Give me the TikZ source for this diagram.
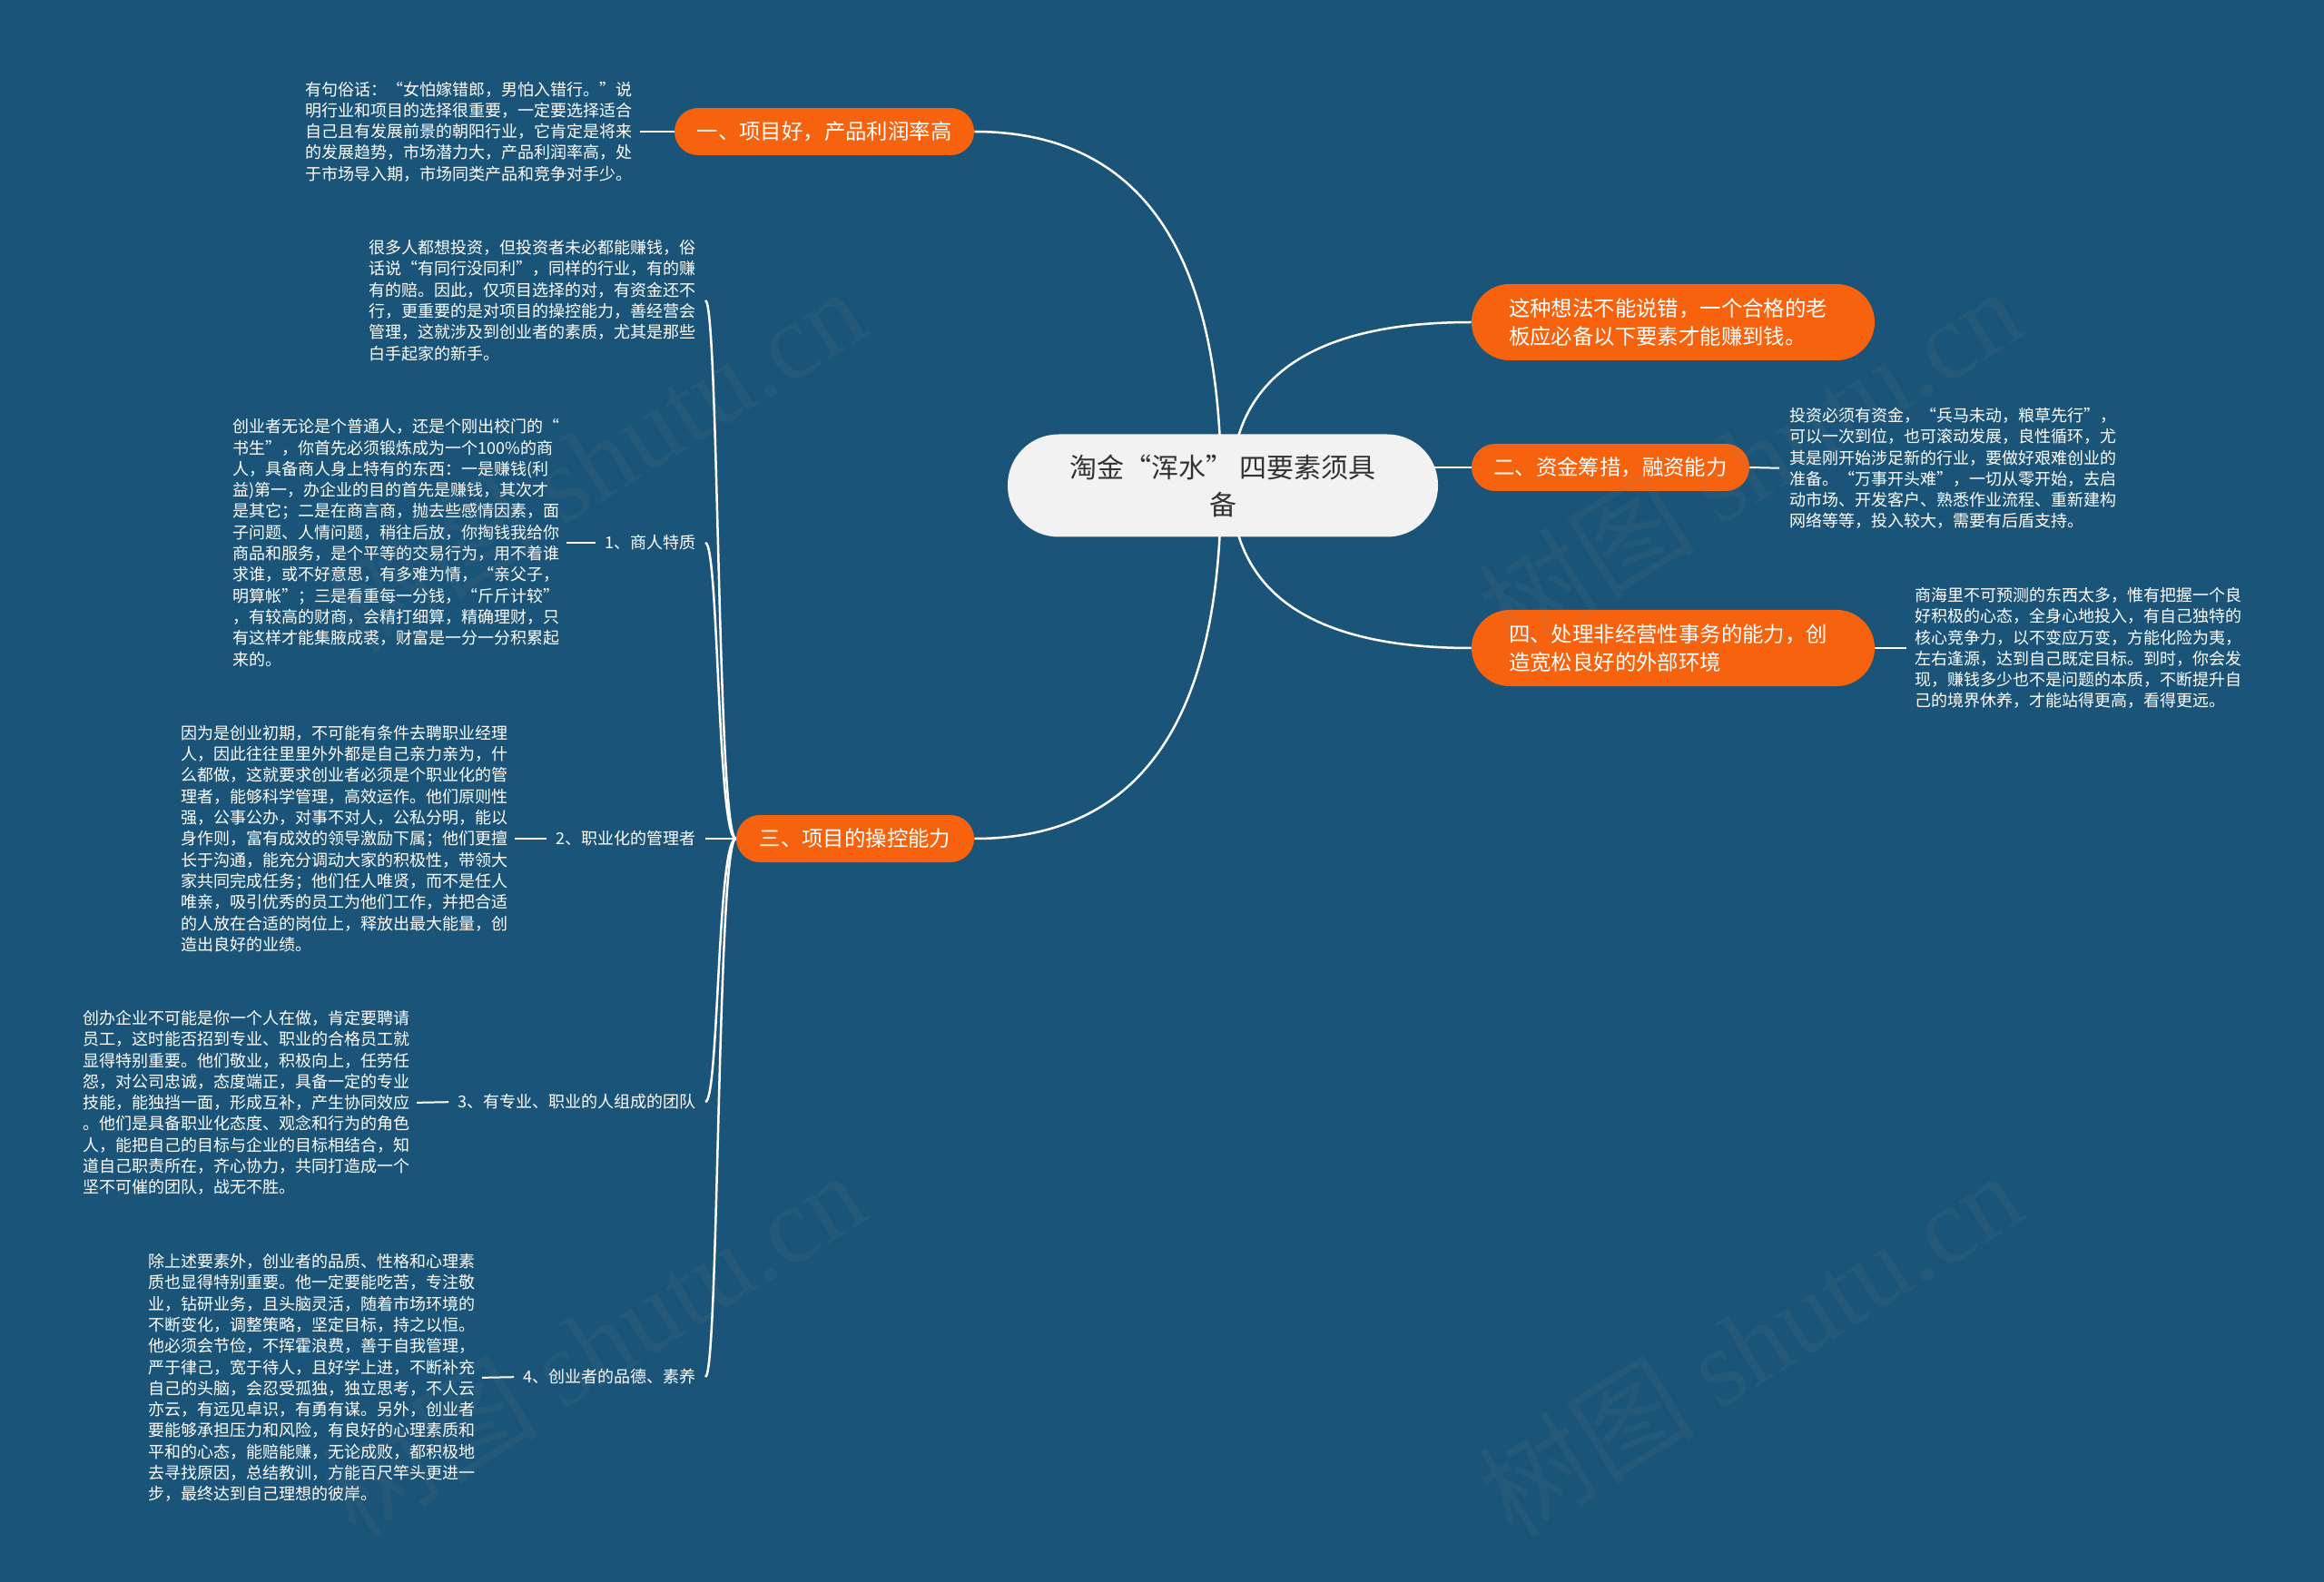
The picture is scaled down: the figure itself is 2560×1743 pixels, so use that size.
\documentclass[tikz,border=0pt]{standalone}
\usepackage{fontspec}
\setmainfont{Noto Sans CJK SC}
\newfontfamily\wmfont{Liberation Serif}
\usetikzlibrary{backgrounds,calc}
\definecolor{bgblue}{HTML}{1B5479}
\definecolor{brorange}{HTML}{F7620E}
\definecolor{rootfill}{HTML}{F2F2F2}
\definecolor{roottext}{HTML}{333333}
\begin{document}
\begin{tikzpicture}[x=0.5pt,y=-0.5pt,
  rootbox/.style={fill=rootfill, text=roottext, rounded corners=28pt, minimum width=237pt, minimum height=56.5pt, align=center, font=\fontsize{15}{20.5}\selectfont, inner sep=0pt},
  branchbox/.style={fill=brorange, text=white, rounded corners=13pt, minimum height=26pt, font=\fontsize{11.7}{15.5}\selectfont, inner sep=0pt},
  widebranch/.style={branchbox, minimum width=222pt, minimum height=42pt, rounded corners=21pt, align=left, text width=181pt},
  leaftext/.style={text=white, align=left, inner sep=0pt, font=\fontsize{9}{11.65}\selectfont},
  sublabel/.style={text=white, inner sep=0pt, font=\fontsize{9}{11.65}\selectfont},
  link/.style={draw=white, line width=1.25pt},
  leaflink/.style={draw=white, line width=1pt},
  wm/.style={text=black!45, text opacity=0.09, font=\fontsize{60}{60}\selectfont, inner sep=0pt, rotate=32}
]
\useasboundingbox (0,0) rectangle (2560,1743);
\begin{scope}[on background layer]
  \fill[bgblue] (0,0) rectangle (2560,1743);
\end{scope}

% root
\node[rootbox] (c) at (1347,535) {淘金“浑水”\ 四要素须具\\备};

% main branches
\node[branchbox, minimum width=165pt] (b1) at (908,145) {一、项目好，产品利润率高};
\node[branchbox, minimum width=131pt] (b3) at (942,924) {三、项目的操控能力};
\node[branchbox, minimum width=153pt] (b2) at (1774,515) {二、资金筹措，融资能力};
\node[widebranch] (r1) at (1843,355) {这种想法不能说错，一个合格的老\\板应必备以下要素才能赚到钱。};
\node[widebranch] (b4) at (1843,714) {四、处理非经营性事务的能力，创\\造宽松良好的外部环境};

% leaves
\node[leaftext, anchor=east] (l1) at (697,145) {有句俗话：“女怕嫁错郎，男怕入错行。”说\\明行业和项目的选择很重要，一定要选择适合\\自己且有发展前景的朝阳行业，它肯定是将来\\的发展趋势，市场潜力大，产品利润率高，处\\于市场导入期，市场同类产品和竞争对手少。};

\node[leaftext, anchor=east] (l30) at (767,331) {很多人都想投资，但投资者未必都能赚钱，俗\\话说“有同行没同利”，同样的行业，有的赚\\有的赔。因此，仅项目选择的对，有资金还不\\行，更重要的是对项目的操控能力，善经营会\\管理，这就涉及到创业者的素质，尤其是那些\\白手起家的新手。};

\node[sublabel, anchor=east] (s1) at (767,598) {1、商人特质};
\node[leaftext, anchor=east] (l31) at (617,598) {创业者无论是个普通人，还是个刚出校门的“\\书生”，你首先必须锻炼成为一个100\%的商\\人，具备商人身上特有的东西：一是赚钱(利\\益)第一，办企业的目的首先是赚钱，其次才\\是其它；二是在商言商，抛去些感情因素，面\\子问题、人情问题，稍往后放，你掏钱我给你\\商品和服务，是个平等的交易行为，用不着谁\\求谁，或不好意思，有多难为情，“亲父子，\\明算帐”；三是看重每一分钱，“斤斤计较”\\，有较高的财商，会精打细算，精确理财，只\\有这样才能集腋成裘，财富是一分一分积累起\\来的。};

\node[sublabel, anchor=east] (s2) at (767,924) {2、职业化的管理者};
\node[leaftext, anchor=east] (l32) at (560,924) {因为是创业初期，不可能有条件去聘职业经理\\人，因此往往里里外外都是自己亲力亲为，什\\么都做，这就要求创业者必须是个职业化的管\\理者，能够科学管理，高效运作。他们原则性\\强，公事公办，对事不对人，公私分明，能以\\身作则，富有成效的领导激励下属；他们更擅\\长于沟通，能充分调动大家的积极性，带领大\\家共同完成任务；他们任人唯贤，而不是任人\\唯亲，吸引优秀的员工为他们工作，并把合适\\的人放在合适的岗位上，释放出最大能量，创\\造出良好的业绩。};

\node[sublabel, anchor=east] (s3) at (767,1214) {3、有专业、职业的人组成的团队};
\node[leaftext, anchor=east] (l33) at (452,1215) {创办企业不可能是你一个人在做，肯定要聘请\\员工，这时能否招到专业、职业的合格员工就\\显得特别重要。他们敬业，积极向上，任劳任\\怨，对公司忠诚，态度端正，具备一定的专业\\技能，能独挡一面，形成互补，产生协同效应\\。他们是具备职业化态度、观念和行为的角色\\人，能把自己的目标与企业的目标相结合，知\\道自己职责所在，齐心协力，共同打造成一个\\坚不可催的团队，战无不胜。};

\node[sublabel, anchor=east] (s4) at (767,1517) {4、创业者的品德、素养};
\node[leaftext, anchor=east] (l34) at (524,1518) {除上述要素外，创业者的品质、性格和心理素\\质也显得特别重要。他一定要能吃苦，专注敬\\业，钻研业务，且头脑灵活，随着市场环境的\\不断变化，调整策略，坚定目标，持之以恒。\\他必须会节俭，不挥霍浪费，善于自我管理，\\严于律己，宽于待人，且好学上进，不断补充\\自己的头脑，会忍受孤独，独立思考，不人云\\亦云，有远见卓识，有勇有谋。另外，创业者\\要能够承担压力和风险，有良好的心理素质和\\平和的心态，能赔能赚，无论成败，都积极地\\去寻找原因，总结教训，方能百尺竿头更进一\\步，最终达到自己理想的彼岸。};

\node[leaftext, anchor=west] (l2) at (1971,516) {投资必须有资金，“兵马未动，粮草先行”，\\可以一次到位，也可滚动发展，良性循环，尤\\其是刚开始涉足新的行业，要做好艰难创业的\\准备。“万事开头难”，一切从零开始，去启\\动市场、开发客户、熟悉作业流程、重新建构\\网络等等，投入较大，需要有后盾支持。};

\node[leaftext, anchor=west] (l4) at (2109,714) {商海里不可预测的东西太多，惟有把握一个良\\好积极的心态，全身心地投入，有自己独特的\\核心竞争力，以不变应万变，方能化险为夷，\\左右逢源，达到自己既定目标。到时，你会发\\现，赚钱多少也不是问题的本质，不断提升自\\己的境界休养，才能站得更高，看得更远。};

% connectors
\begin{scope}[on background layer]
  \draw[link] ($(c.center)+(-2,0)$) .. controls (1345,330) and (1290,145) .. (b1.east);
  \draw[link] ($(c.center)+(-2,0)$) .. controls (1345,740) and (1290,924) .. (b3.east);
  \draw[link] ($(c.center)+(9,0)$) .. controls (1358,420) and (1440,355) .. (r1.west);
  \draw[link] ($(c.center)+(9,0)$) .. controls (1358,650) and (1440,714) .. (b4.west);
  \draw[link] (b2.west -| c.center) -- (b2.west);

  \draw[leaflink, shorten <=4pt] (l1.east) -- (b1.west);
  \draw[leaflink, shorten >=5.5pt] (b2.east) -- (l2.west);
  \draw[leaflink, shorten >=4.5pt] (b4.east) -- (l4.west);

  \draw[link, shorten >=5pt] (b3.west) .. controls (790,924) and (792,331) .. (l30.east);
  \draw[link, shorten >=5pt] (b3.west) .. controls (790,924) and (792,598) .. (s1.east);
  \draw[link, shorten >=5pt] (b3.west) -- (s2.east);
  \draw[link, shorten >=5pt] (b3.west) .. controls (790,924) and (792,1214) .. (s3.east);
  \draw[link, shorten >=5pt] (b3.west) .. controls (790,924) and (792,1517) .. (s4.east);

  \draw[leaflink, shorten <=3.5pt, shorten >=5pt] (l31.east) -- (s1.west);
  \draw[leaflink, shorten <=3.5pt, shorten >=5pt] (l32.east) -- (s2.west);
  \draw[leaflink, shorten <=3.5pt, shorten >=5pt] (l33.east) -- (s3.west);
  \draw[leaflink, shorten <=3.5pt, shorten >=5pt] (l34.east) -- (s4.west);
\end{scope}

% watermarks
\node[wm] (wm1) at (653,506) {树图\ {\wmfont shutu.cn}};
\node[wm] (wm2) at (1927,506) {树图\ {\wmfont shutu.cn}};
\node[wm] (wm3) at (653,1480) {树图\ {\wmfont shutu.cn}};
\node[wm] (wm4) at (1927,1480) {树图\ {\wmfont shutu.cn}};
\end{tikzpicture}
\end{document}
